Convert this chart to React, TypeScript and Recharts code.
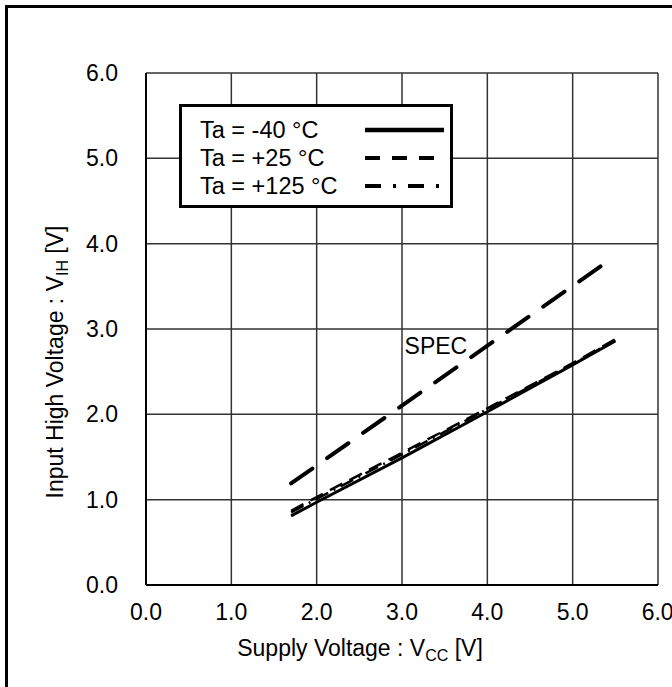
import type { JSX } from "react";

import { CartesianGrid, Label, Legend, Line, LineChart, ReferenceDot, XAxis, YAxis } from "recharts";

const FONT = '"Liberation Sans", Arial, sans-serif';

const axisTicks = [0, 1, 2, 3, 4, 5, 6];

// Ta = -40 °C
const vihMinus40 = [
	{ vcc: 1.7, vih: 0.81 },
	{ vcc: 2.0, vih: 0.97 },
	{ vcc: 3.0, vih: 1.49 },
	{ vcc: 4.0, vih: 2.03 },
	{ vcc: 5.0, vih: 2.58 },
	{ vcc: 5.5, vih: 2.86 },
];

// Ta = +25 °C
const vihPlus25 = [
	{ vcc: 1.7, vih: 0.87 },
	{ vcc: 2.0, vih: 1.03 },
	{ vcc: 3.0, vih: 1.55 },
	{ vcc: 4.0, vih: 2.07 },
	{ vcc: 5.0, vih: 2.6 },
	{ vcc: 5.5, vih: 2.88 },
];

// Ta = +125 °C
const vihPlus125 = [
	{ vcc: 1.7, vih: 0.85 },
	{ vcc: 2.0, vih: 1.01 },
	{ vcc: 3.0, vih: 1.53 },
	{ vcc: 4.0, vih: 2.06 },
	{ vcc: 5.0, vih: 2.59 },
	{ vcc: 5.5, vih: 2.87 },
];

const specLine = [
	{ vcc: 1.7, vih: 1.19 },
	{ vcc: 5.35, vih: 3.75 },
];

const specLabel = { vcc: 3.03, vih: 2.8, text: "SPEC" };

const legendItems = [
	{ name: "Ta = -40 °C", dash: undefined },
	{ name: "Ta = +25 °C", dash: "15 12" },
	{ name: "Ta = +125 °C", dash: "16 12 3 12" },
];

function LegendBox(): JSX.Element {
	return (
		<div
			style={{
				border: "3px solid #000",
				boxSizing: "border-box",
				background: "#fff",
				width: 274,
				height: 104,
				fontFamily: FONT,
				fontSize: 23.5,
				color: "#000",
				paddingTop: 9,
			}}
		>
			{legendItems.map((item) => (
				<div key={item.name} style={{ display: "flex", alignItems: "center", height: 28 }}>
					<span style={{ width: 163, paddingLeft: 18, whiteSpace: "nowrap", lineHeight: "28px" }}>{item.name}</span>
					<svg height={8} width={82}>
						<line stroke="#000" strokeDasharray={item.dash} strokeWidth={item.dash ? 4 : 4.5} x1={2} x2={81} y1={4} y2={4} />
					</svg>
				</div>
			))}
		</div>
	);
}

function XTitle(): JSX.Element {
	return (
		<text fill="#000" fontFamily={FONT} fontSize={23} textAnchor="middle" x={360} y={656}>
			Supply Voltage : V
			<tspan dy={5} fontSize={16}>CC</tspan>
			<tspan dy={-5}> [V]</tspan>
		</text>
	);
}

function YTitle(): JSX.Element {
	const cy = 362;
	return (
		<text fill="#000" fontFamily={FONT} fontSize={23} textAnchor="middle" transform={`rotate(-90 63 ${cy})`} x={63} y={cy}>
			Input High Voltage : V
			<tspan dy={5} fontSize={16}>IH</tspan>
			<tspan dy={-5}> [V]</tspan>
		</text>
	);
}

export default function App(): JSX.Element {
	return (
		<div style={{ position: "absolute", left: 0, top: 0, width: 672, height: 687, background: "#fff" }}>
			<div
				style={{
					position: "absolute",
					left: 5,
					top: 5,
					width: 667,
					height: 682,
					boxSizing: "border-box",
					borderLeft: "3px solid #000",
					borderTop: "3px solid #000",
				}}
			/>
			<div style={{ position: "absolute", left: 0, top: 0 }}>
				<LineChart height={687} margin={{ top: 73, right: 14, bottom: 42, left: 66 }} width={672}>
					<CartesianGrid stroke="#333" strokeWidth={1.5} />
					<XAxis
						allowDataOverflow
						axisLine={{ stroke: "#000", strokeWidth: 2 }}
						dataKey="vcc"
						domain={[0, 6]}
						height={60}
						tick={{ fill: "#000", fontFamily: FONT, fontSize: 23 }}
						tickFormatter={(v) => Number(v).toFixed(1)}
						tickLine={false}
						tickMargin={19}
						tickSize={0}
						ticks={axisTicks}
						type="number"
					>
						<Label content={<XTitle />} />
					</XAxis>
					<YAxis
						allowDataOverflow
						axisLine={{ stroke: "#000", strokeWidth: 2 }}
						dataKey="vih"
						domain={[0, 6]}
						tick={{ fill: "#000", fontFamily: FONT, fontSize: 23 }}
						tickFormatter={(v) => Number(v).toFixed(1)}
						tickLine={false}
						tickMargin={28}
						tickSize={0}
						ticks={axisTicks}
						type="number"
						width={80}
					>
						<Label content={<YTitle />} />
					</YAxis>
					<Legend
						align="center"
						content={<LegendBox />}
						layout="vertical"
						verticalAlign="middle"
						wrapperStyle={{ left: 179, top: 104, width: 274, height: 104 }}
					/>
					<Line
						data={specLine}
						dataKey="vih"
						dot={false}
						isAnimationActive={false}
						legendType="none"
						stroke="#000"
						strokeDasharray="26 18"
						strokeLinecap="round"
						strokeWidth={4}
						type="linear"
					/>
					<Line data={vihMinus40} dataKey="vih" dot={false} isAnimationActive={false} stroke="#000" strokeWidth={3} type="linear" />
					<Line
						data={vihPlus25}
						dataKey="vih"
						dot={false}
						isAnimationActive={false}
						stroke="#000"
						strokeDasharray="14 8"
						strokeWidth={2.5}
						type="linear"
					/>
					<Line
						data={vihPlus125}
						dataKey="vih"
						dot={false}
						isAnimationActive={false}
						stroke="#000"
						strokeDasharray="14 6 2 6"
						strokeWidth={2.5}
						type="linear"
					/>
					<ReferenceDot
						r={0}
						shape={(p: any) => (
							<text fill="#000" fontFamily={FONT} fontSize={23} x={p.cx} y={p.cy + 8}>
								{specLabel.text}
							</text>
						)}
						x={specLabel.vcc}
						y={specLabel.vih}
					/>
				</LineChart>
			</div>
		</div>
	);
}
